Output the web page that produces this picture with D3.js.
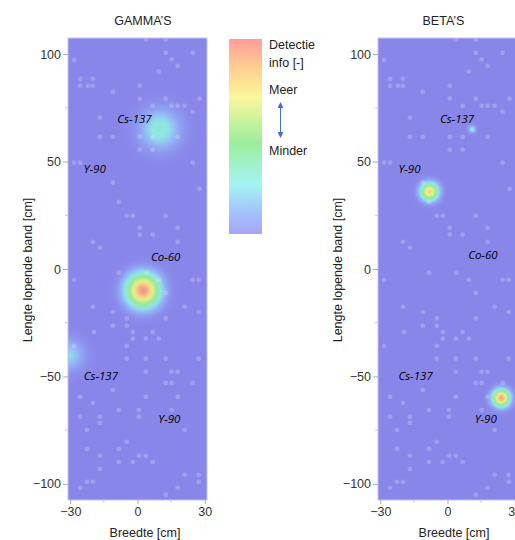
<!DOCTYPE html>
<html>
<head>
<meta charset="utf-8">
<script src="https://cdn.jsdelivr.net/npm/d3@7"></script>
<style>
	body { margin: 0; background: #fff; }
	svg { display: block; font-family: "Liberation Sans", Arial, sans-serif; }
</style>
</head>
<body>
<svg id="chart" width="515" height="540"></svg>
<script>
/* global d3 */

/**
 * Data
 */
const panelTitles = [ 'GAMMA’S', 'BETA’S' ];
const xTicks = [ -30, 0, 30 ];
const xMinorTicks = [ -15, 15 ];
const yTicks = [ -100, -50, 0, 50, 100 ];
const yMinorTicks = [ -75, -25, 25, 75 ];

// hotspots: position [cm], peak detection level [0-1], spread [cm]
const gammaSourceX = [ 2.5, 10, -31 ];
const gammaSourceY = [ -10, 65, -40 ];
const gammaPeak = [ 0.97, 0.3, 0.22 ];
const gammaSpread = [ 5, 5.8, 4.6 ];

const betaSourceX = [ -8, 24, 11 ];
const betaSourceY = [ 36, -60, 65 ];
const betaPeak = [ 0.8, 0.93, 0.26 ];
const betaSpread = [ 2.7, 2.6, 1.1 ];

// source annotations
const labelNames = [ 'Cs-137', 'Y-90', 'Co-60', 'Cs-137', 'Y-90' ];
const gammaLabelX = [ -9, -24, 6, -24, 9.3 ];
const gammaLabelY = [ 70, 46.5, 5.6, -50, -69.7 ];
const betaLabelX = [ -3.4, -21.9, 9.2, -21.9, 12.1 ];
const betaLabelY = [ 70, 46.7, 6.3, -50, -69.7 ];

// background noise cells [cm]
const speckles = [
	[ -28.3, 97.3 ], [ -25.6, 88.5 ], [ -19.9, 88.5 ], [ -25.6, 85.3 ], [ -22.1, 85.3 ],
	[ -19.9, 85.3 ], [ -11, 82.5 ], [ 1, 85.3 ], [ 9.5, 91.9 ], [ 12.6, 100.7 ],
	[ 24.6, 100.7 ], [ 17.9, 94.6 ], [ 15.2, 97.5 ], [ 3.7, 106.8 ], [ 12.6, 106.8 ],
	[ 1, 79.3 ], [ 6.8, 76 ], [ 12.6, 79.3 ], [ 15.2, 76 ], [ 17.9, 76 ],
	[ 21, 76 ], [ 27.7, 79.3 ], [ 24.6, 73.2 ], [ -16.8, 70.4 ], [ -16.8, 61.5 ],
	[ -11, 61.5 ], [ 1, 61.5 ], [ 6.8, 61.5 ], [ 17.9, 61.5 ], [ 1, 55.5 ],
	[ 6.8, 55.5 ], [ -28.3, 49.5 ], [ -25.6, 49.5 ], [ 24.6, 49.5 ], [ -11, 40.2 ],
	[ 27.7, 37.3 ], [ -8.3, 31.3 ], [ -4.8, 24.8 ], [ -2.1, 24.8 ], [ 12.6, 24.8 ],
	[ 1, 19.2 ], [ 1, 16 ], [ 6.8, 16 ], [ 17.9, 19.2 ], [ -19.9, 12.7 ],
	[ -16.8, 9.9 ], [ 17.9, 12.7 ], [ -28.3, -5 ], [ -8.3, -1.7 ], [ 4, -1.7 ],
	[ 9.5, -5 ], [ 12.6, -11 ], [ 24.6, -5 ], [ 27.3, -5 ], [ 21, -17.6 ],
	[ 27.3, -20 ], [ -19.9, -17.6 ], [ -11, -20 ], [ -4.8, -23 ], [ 12.6, -23 ],
	[ -11, -26.4 ], [ -4.8, -26.4 ], [ -2.1, -29.3 ], [ 6.8, -29.3 ], [ -19.4, -29.3 ],
	[ -2.1, -32.4 ], [ 3.7, -32.4 ], [ 9.5, -32.4 ], [ -28.3, -35.7 ], [ -4.8, -35.7 ],
	[ 3.7, -41.7 ], [ 12.6, -41.7 ], [ -4.8, -41.7 ], [ 27.3, -41.7 ], [ 3.7, -47.8 ],
	[ 15.2, -47.8 ], [ 17.9, -47.8 ], [ 12.6, -53 ], [ 15.2, -53 ], [ 24.6, -53 ],
	[ -25.6, -59.4 ], [ -11, -56.3 ], [ 3.7, -59.4 ], [ 17.9, -59.4 ], [ -19.9, -62.4 ],
	[ -8.3, -65.6 ], [ 0.6, -65.6 ], [ 15.2, -65.6 ], [ -25.6, -68.7 ], [ -16.8, -68.7 ],
	[ 0.6, -68.7 ], [ -16.8, -71.7 ], [ -22.5, -74.9 ], [ 21, -74.9 ], [ -4.8, -80.4 ],
	[ -22.5, -83.7 ], [ -8.3, -83.7 ], [ -16.8, -86.9 ], [ 0.6, -86.9 ], [ 3.7, -86.9 ],
	[ -8.3, -89.8 ], [ -2.1, -89.8 ], [ 6.8, -89.8 ], [ -16.8, -93 ], [ 21, -95.8 ],
	[ 27.3, -95.8 ], [ -22.5, -99 ], [ -19.9, -99 ], [ 27.3, -99 ], [ -25.6, -101.8 ],
	[ 17.9, -101.8 ], [ 12.6, -105 ],
];

const legendLines = [ 'Detectie', 'info [-]' ];
const legendHigh = 'Meer';
const legendLow = 'Minder';

/**
 * Layout
 */
const plot = { width: 139, height: 462, top: 38 };
const panels = [
	{ left: 68, titleX: 143, labelX: 145, sources: [ gammaSourceX, gammaSourceY, gammaPeak, gammaSpread ], labels: [ gammaLabelX, gammaLabelY ] },
	{ left: 378, titleX: 133.5, labelX: 144, sources: [ betaSourceX, betaSourceY, betaPeak, betaSpread ], labels: [ betaLabelX, betaLabelY ] },
];

const stopDomain = [ 0, 0.12, 0.25, 0.47, 0.7, 0.85, 1 ];
const heatColor = d3.scaleLinear()
	.domain( stopDomain )
	.range( [ '#8986ea', '#93aef5', '#8fe6ea', '#96ea92', '#f1ef8a', '#f6c583', '#f28a8a' ] )
	.clamp( true );
const legendColor = d3.scaleLinear()
	.domain( stopDomain )
	.range( [ '#a6a4f6', '#a3c4fb', '#a3f4f4', '#9cee9c', '#fbf79b', '#fdd08f', '#ff9b9b' ] );

const x = d3.scaleLinear().domain( [ -31, 31 ] ).range( [ 0, plot.width ] );
const y = d3.scaleLinear().domain( [ -107.5, 107.5 ] ).range( [ plot.height, 0 ] );

const svg = d3.select( '#chart' );
const defs = svg.append( 'defs' );

panels.forEach( ( panel, p ) => {
	const [ sx, sy, peak, spread ] = panel.sources;
	const [ lx, ly ] = panel.labels;

	defs.append( 'clipPath' )
		.attr( 'id', `clip-${ p }` )
		.append( 'rect' )
		.attr( 'width', plot.width )
		.attr( 'height', plot.height );

	const g = svg.append( 'g' )
		.attr( 'transform', `translate(${ panel.left },${ plot.top })` );

	// title
	svg.append( 'text' )
		.attr( 'x', panel.left - 68 + panel.titleX )
		.attr( 'y', 25 )
		.attr( 'text-anchor', 'middle' )
		.attr( 'font-size', 12.5 )
		.attr( 'fill', '#222' )
		.text( panelTitles[ p ] );

	const area = g.append( 'g' ).attr( 'clip-path', `url(#clip-${ p })` );

	area.append( 'rect' )
		.attr( 'width', plot.width )
		.attr( 'height', plot.height )
		.attr( 'fill', heatColor( 0 ) );

	// hotspots
	sx.forEach( ( cx, i ) => {
		const id = `spot-${ p }-${ i }`;
		const grad = defs.append( 'radialGradient' ).attr( 'id', id );
		d3.range( 0, 21 ).forEach( ( k ) => {
			const o = k / 20;
			const r = o * 3.5;
			grad.append( 'stop' )
				.attr( 'offset', o )
				.attr( 'stop-color', heatColor( peak[ i ] * Math.exp( -r * r / 2 ) ) )
				.attr( 'stop-opacity', Math.min( 1, ( 1 - o ) * 3 ) );
		} );

		area.append( 'circle' )
			.attr( 'cx', x( cx ) )
			.attr( 'cy', y( sy[ i ] ) )
			.attr( 'r', x( spread[ i ] * 3.5 ) - x( 0 ) )
			.attr( 'fill', `url(#${ id })` );
	} );

	// noise cells
	area.selectAll( '.speckle' )
		.data( speckles )
		.join( 'rect' )
		.attr( 'class', 'speckle' )
		.attr( 'x', ( d ) => x( d[ 0 ] ) - 2.3 )
		.attr( 'y', ( d ) => y( d[ 1 ] ) - 2.3 )
		.attr( 'width', 4.6 )
		.attr( 'height', 4.6 )
		.attr( 'rx', 1.8 )
		.attr( 'fill', '#fff' )
		.attr( 'fill-opacity', 0.2 );

	g.append( 'rect' )
		.attr( 'width', plot.width )
		.attr( 'height', plot.height )
		.attr( 'fill', 'none' )
		.attr( 'stroke', '#c4c2ee' )
		.attr( 'stroke-width', 1 );

	// annotations
	g.selectAll( '.src-label' )
		.data( labelNames )
		.join( 'text' )
		.attr( 'class', 'src-label' )
		.attr( 'x', ( d, i ) => x( lx[ i ] ) )
		.attr( 'y', ( d, i ) => y( ly[ i ] ) )
		.attr( 'dy', '0.35em' )
		.attr( 'font-family', '"Open Sans", sans-serif' )
		.attr( 'font-style', 'italic' )
		.attr( 'font-size', 11.5 )
		.attr( 'fill', '#000' )
		.text( ( d ) => d );

	// axes
	const yAxis = g.append( 'g' )
		.call( d3.axisLeft( y ).tickValues( yTicks ).tickSize( 5 ).tickPadding( 2 ) );
	const xAxis = g.append( 'g' )
		.attr( 'transform', `translate(0,${ plot.height })` )
		.call( d3.axisBottom( x ).tickValues( xTicks ).tickSize( 4 ).tickPadding( 3 ) );

	[ yAxis, xAxis ].forEach( ( axis ) => {
		axis.select( '.domain' ).remove();
		axis.selectAll( '.tick line' ).attr( 'stroke', '#aaa' );
		axis.selectAll( 'text' )
			.attr( 'font-size', 12.5 )
			.attr( 'font-family', '"Liberation Sans", Arial, sans-serif' )
			.attr( 'fill', '#333' );
	} );

	g.selectAll( '.y-minor' )
		.data( yMinorTicks )
		.join( 'line' )
		.attr( 'class', 'y-minor' )
		.attr( 'x1', -3 )
		.attr( 'x2', 0 )
		.attr( 'y1', ( d ) => y( d ) )
		.attr( 'y2', ( d ) => y( d ) )
		.attr( 'stroke', '#ccc' );

	g.selectAll( '.x-minor' )
		.data( xMinorTicks )
		.join( 'line' )
		.attr( 'class', 'x-minor' )
		.attr( 'x1', ( d ) => x( d ) )
		.attr( 'x2', ( d ) => x( d ) )
		.attr( 'y1', plot.height )
		.attr( 'y2', plot.height + 3 )
		.attr( 'stroke', '#ccc' );

	// axis titles
	svg.append( 'text' )
		.attr( 'transform', `translate(${ panel.left - 36.5 },270) rotate(-90)` )
		.attr( 'text-anchor', 'middle' )
		.attr( 'font-size', 12.5 )
		.attr( 'fill', '#222' )
		.text( 'Lengte lopende band [cm]' );

	svg.append( 'text' )
		.attr( 'x', panel.left - 68 + panel.labelX )
		.attr( 'y', 537 )
		.attr( 'text-anchor', 'middle' )
		.attr( 'font-size', 12.5 )
		.attr( 'fill', '#222' )
		.text( 'Breedte [cm]' );
} );

/**
 * Colour legend
 */
const legendScale = d3.scaleLinear().domain( [ 0, 1 ] ).range( [ 234, 39 ] );
const legendGrad = defs.append( 'linearGradient' )
	.attr( 'id', 'legend-grad' )
	.attr( 'x1', 0 ).attr( 'y1', 1 )
	.attr( 'x2', 0 ).attr( 'y2', 0 );
stopDomain.forEach( ( t ) => {
	legendGrad.append( 'stop' )
		.attr( 'offset', t )
		.attr( 'stop-color', legendColor( t ) );
} );

svg.append( 'rect' )
	.attr( 'x', 229 )
	.attr( 'y', legendScale( 1 ) )
	.attr( 'width', 33 )
	.attr( 'height', legendScale( 0 ) - legendScale( 1 ) )
	.attr( 'fill', 'url(#legend-grad)' );

const legendText = svg.append( 'g' )
	.attr( 'font-size', 12.5 )
	.attr( 'fill', '#222' );

legendLines.forEach( ( line, i ) => {
	legendText.append( 'text' )
		.attr( 'x', 269 )
		.attr( 'y', 49 + i * 18 )
		.text( line );
} );
legendText.append( 'text' ).attr( 'x', 269 ).attr( 'y', 94 ).text( legendHigh );
legendText.append( 'text' ).attr( 'x', 269 ).attr( 'y', 155 ).text( legendLow );

defs.append( 'marker' )
	.attr( 'id', 'arrow-head' )
	.attr( 'viewBox', '0 0 10 10' )
	.attr( 'refX', 5 )
	.attr( 'refY', 5 )
	.attr( 'markerWidth', 6 )
	.attr( 'markerHeight', 6 )
	.attr( 'markerUnits', 'userSpaceOnUse' )
	.attr( 'orient', 'auto-start-reverse' )
	.append( 'path' )
	.attr( 'd', 'M0,0L10,5L0,10Z' )
	.attr( 'fill', '#4472c4' );

svg.append( 'line' )
	.attr( 'x1', 280.5 )
	.attr( 'x2', 280.5 )
	.attr( 'y1', 105 )
	.attr( 'y2', 135 )
	.attr( 'stroke', '#4472c4' )
	.attr( 'stroke-width', 1 )
	.attr( 'marker-start', 'url(#arrow-head)' )
	.attr( 'marker-end', 'url(#arrow-head)' );
</script>
</body>
</html>
